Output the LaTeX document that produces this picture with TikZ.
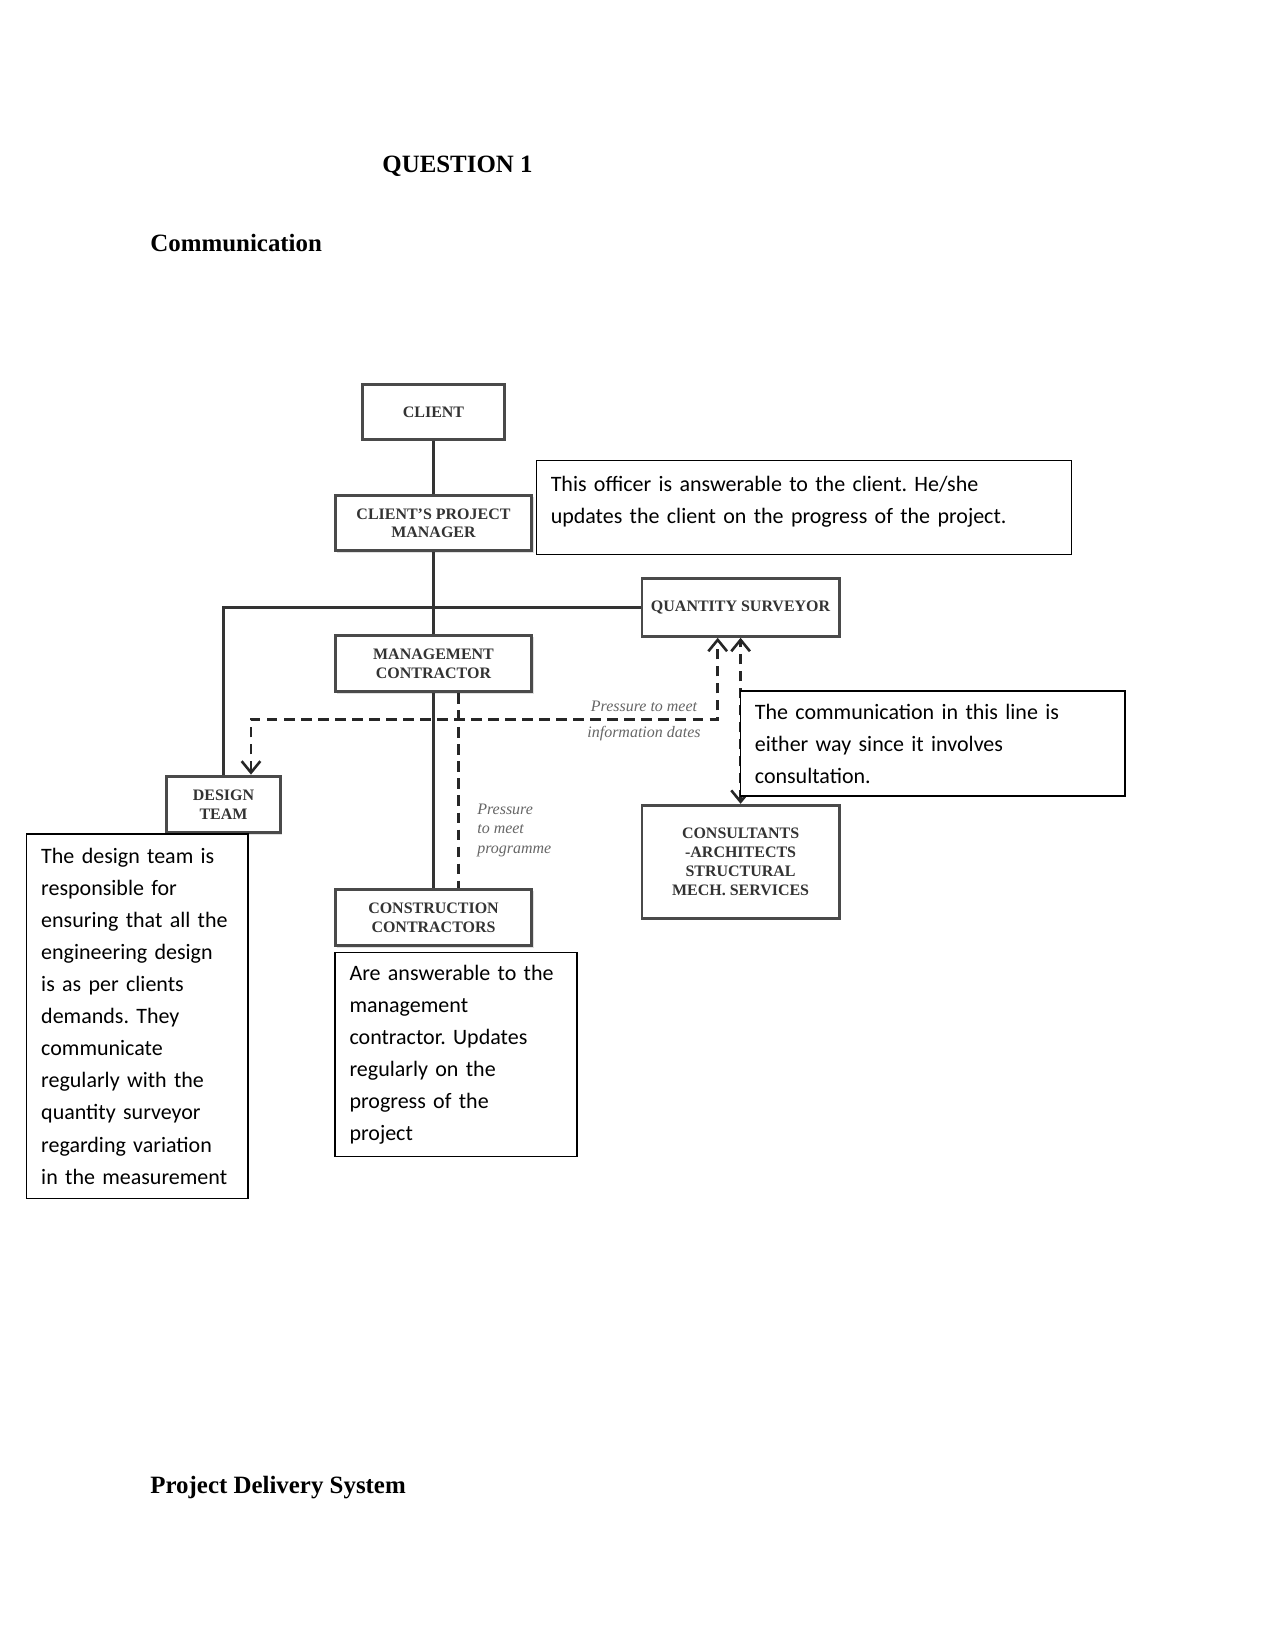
\documentclass[tikz,border=0pt]{standalone}
\usepackage{fontspec}
\setmainfont{Liberation Serif}
\newfontfamily\calibri{Carlito}
\usetikzlibrary{arrows.meta,calc,positioning,shadows}
\definecolor{boxgray}{HTML}{4A4A4A}
\definecolor{labelgray}{HTML}{333333}
\definecolor{italgray}{HTML}{666666}
\frenchspacing
\newcommand\orgfont{\fontsize{7.7}{9.1}\selectfont\bfseries}
\newcommand\notefont{\calibri\fontsize{10.6}{15.45}\selectfont\hyphenpenalty=10000\exhyphenpenalty=10000}
\newcommand\lblfont{\fontsize{7.7}{9.4}\selectfont\itshape}
\newcommand\headfont{\fontsize{12}{14}\selectfont\bfseries}
\tikzset{
  orgbox/.style={draw=boxgray, line width=1.4pt, fill=white, font=\orgfont,
                 text=labelgray, align=center, inner sep=1pt,
                 drop shadow={shadow xshift=0.8pt, shadow yshift=-0.8pt, opacity=0.25}},
  conn/.style={draw=labelgray, line width=1pt},
  dashln/.style={draw=black!85, line width=1.25pt, dash pattern=on 5pt off 3.2pt,
                 >={Straight Barb[length=5.5pt,width=9pt]}},
  note/.style={draw, line width=0.7pt, fill=white, align=left, font=\notefont,
               inner xsep=7pt, inner ysep=0pt},
  lbl/.style={font=\lblfont, text=italgray},
  heading/.style={font=\headfont, anchor=base west, inner sep=0pt},
}
\begin{document}
\begin{tikzpicture}[x=0.016933cm, y=-0.016933cm]
  \useasboundingbox (0,0) rectangle (1275,1650);
  % headings
  \node[heading] (qone) at (382,172) {QUESTION 1};
  \node[heading] (comm) at (150,251) {Communication};
  \node[heading] (pds) at (150,1493) {Project Delivery System};
  % organisation boxes
  \node[orgbox, minimum width=68.2pt, minimum height=26.4pt] (CL) at (433.5,412) {CLIENT};
  \node[orgbox, minimum width=94.8pt, minimum height=26.6pt] (CPM) at (433.5,523.3) {CLIENT’S PROJECT\\MANAGER};
  \node[orgbox, minimum width=94.8pt, minimum height=27.4pt] (MC) at (433.5,663.5) {MANAGEMENT\\CONTRACTOR};
  \node[orgbox, minimum width=94.8pt, minimum height=27.4pt] (CC) at (433.5,917.5) {CONSTRUCTION\\CONTRACTORS};
  \node[orgbox, minimum width=95pt, minimum height=27.8pt] (QS) at (740.6,607.5) {QUANTITY SURVEYOR};
  \node[orgbox, minimum width=55.2pt, minimum height=27.4pt] (DT) at (223.5,804.5) {DESIGN\\TEAM};
  \node[orgbox, minimum width=95pt, minimum height=54.4pt] (CONS) at (740.6,861.7) {CONSULTANTS\\-ARCHITECTS\\STRUCTURAL\\MECH. SERVICES};
  % solid lines
  \draw[conn] (CL) -- (CPM);
  \draw[conn] (CPM) -- (MC);
  \draw[conn] (MC) -- (CC);
  \draw[conn] (QS.west) -| (DT.north);
  % dashed lines
  \coordinate (dl) at ($(DT.north)+(27.5,0)$);
  \coordinate (dr) at ($(QS.south)+(-22.9,0)$);
  \coordinate (mp) at ($(MC.south)+(25,0)$);
  \draw[dashln, <->] (dl) -- ++(0,-55.3) -| (dr);
  \draw[dashln] (mp) -- (mp |- CC.north);
  \draw[dashln, <->] (CONS.north) -- (QS.south);
  % labels
  \node[lbl] (pin1) at (644,706) {Pressure to meet};
  \node[lbl] (pin2) at (644,734) {information dates};
  \node[lbl, anchor=west, align=left] (pprog) at (470,830) {Pressure\\to meet\\programme};
  % notes
  \node[note, anchor=north west, text width=244pt, text height=14.9pt, text depth=30.2pt] (nCPM) at (535.5,460)
    {This officer is answerable to the client. He/she\\updates the client on the progress of the project.};
  \node[note, text width=171.3pt, minimum height=50.6pt] (nQS) at (932.6,743.7)
    {The communication in this line is\\either way since it involves\\consultation.};
  \node[note, text width=92.6pt, minimum height=175.8pt] (nDT) at (137.3,1016.2)
    {The design team is\\responsible for\\ensuring that all the\\engineering design\\is as per clients\\demands. They\\communicate\\regularly with the\\quantity surveyor\\regarding variation\\in the measurement};
  \node[note, text width=102.6pt, minimum height=98.4pt] (nCC) at (456,1054.5)
    {Are answerable to the\\management\\contractor. Updates\\regularly on the\\progress of the\\project};
\end{tikzpicture}
\end{document}
